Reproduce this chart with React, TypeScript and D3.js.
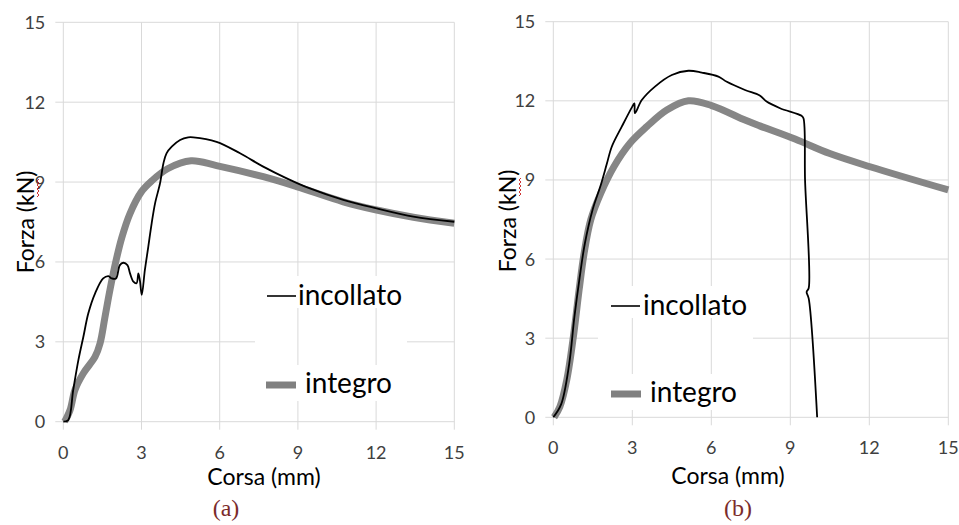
import * as d3 from 'd3';

// x = corsa (mm), y = forza (kN)
const ticks = [0, 3, 6, 9, 12, 15];

const incollatoA: [number, number][] = [
  [0, 0], [0.19, 0.06], [0.38, 1.19], [0.58, 2.32], [0.77, 3.19], [0.96, 4.07],
  [1.22, 4.82], [1.53, 5.38], [1.73, 5.47], [1.86, 5.38], [2.02, 5.38],
  [2.17, 5.88], [2.3, 5.97], [2.46, 5.88], [2.56, 5.57], [2.69, 5.26],
  [2.81, 5.2], [2.88, 5.57], [2.94, 5.3], [3.01, 4.76], [3.13, 5.7],
  [3.26, 6.57], [3.39, 7.45], [3.52, 8.2], [3.71, 8.95], [3.84, 9.7],
  [3.96, 10.08], [4.16, 10.33], [4.48, 10.58], [4.79, 10.68], [4.99, 10.68],
  [5.88, 10.51], [6.78, 10.08], [7.67, 9.58], [8.57, 9.14], [9.46, 8.76],
  [10.74, 8.33], [12.02, 8.01], [13.43, 7.7], [15, 7.51],
];

const integroA: [number, number][] = [
  [0.05, 0], [0.26, 0.44], [0.45, 1.2], [0.77, 1.82], [1.22, 2.44],
  [1.41, 2.94], [1.6, 3.94], [1.79, 4.95], [2.0, 5.95], [2.24, 6.9],
  [2.55, 7.8], [3.0, 8.64], [3.4, 9.05], [4.0, 9.5], [4.9, 9.8],
  [5.88, 9.62], [7.67, 9.2], [8.95, 8.83], [10.74, 8.26], [12.02, 7.95],
  [13.43, 7.68], [15, 7.45],
];

const incollatoB: [number, number][] = [
  [0, 0], [0.3, 0.5], [0.6, 2.0], [0.8, 3.8], [1.0, 5.3], [1.2, 6.6],
  [1.5, 7.9], [1.8, 8.8], [2.03, 9.6], [2.22, 10.26], [2.6, 11.02],
  [3.0, 11.78], [3.08, 11.9], [3.1, 11.53], [3.36, 12.03], [3.86, 12.54],
  [4.5, 12.98], [5.13, 13.14], [5.64, 13.07], [6.27, 12.92], [6.59, 12.72],
  [7.28, 12.41], [7.84, 12.2], [8.1, 11.97], [8.61, 11.72], [9.43, 11.43],
  [9.5, 11.34], [9.56, 9.0], [9.7, 4.9], [9.62, 4.75], [9.7, 4.5], [10.02, 0],
];

const integroB: [number, number][] = [
  [0.03, 0], [0.25, 0.4], [0.51, 1.41], [0.78, 3.19], [0.98, 4.83],
  [1.17, 6.22], [1.42, 7.48], [1.8, 8.49], [2.3, 9.5], [2.91, 10.39],
  [3.55, 11.02], [4.31, 11.65], [5.13, 12.0], [6.01, 11.82], [7.28, 11.27],
  [7.84, 11.05], [9.18, 10.55], [10.5, 10.0], [12.03, 9.5], [15, 8.62],
];

const panels = [
  {
    key: 'a',
    label: '(a)',
    incollato: incollatoA,
    integro: integroA,
    x: [63.3, 454.3], y: [421.7, 22.3],
    gap: [255, 407],
    xTitle: [264, 485], yTitle: [26, 222], tag: [226, 516],
    legInc: [267, 296, 298], legInt: [266, 385, 305],
  },
  {
    key: 'b',
    label: '(b)',
    incollato: incollatoB,
    integro: integroB,
    x: [553.3, 948.3], y: [417.3, 21.7],
    gap: [598, 753],
    xTitle: [728, 484], yTitle: [508, 221], tag: [738, 516],
    legInc: [611, 306, 643], legInt: [611, 394, 650],
  },
];

const FONT = 'Lato, "Open Sans", sans-serif';
const GRID = '#d9d9d9';

function Panel({ p }: { p: (typeof panels)[number] }) {
  const x = d3.scaleLinear().domain([0, 15]).range(p.x);
  const y = d3.scaleLinear().domain([0, 15]).range(p.y);
  const line = d3
    .line<[number, number]>()
    .x((d) => x(d[0]))
    .y((d) => y(d[1]))
    .curve(d3.curveCatmullRom.alpha(0.5));

  return (
    <g>
      {/* grid */}
      {ticks.map((t) =>
        t === 3 ? (
          <g key={'h' + t}>
            <line x1={x(0) - 8} x2={p.gap[0]} y1={y(t)} y2={y(t)} stroke={GRID} />
            <line x1={p.gap[1]} x2={x(15)} y1={y(t)} y2={y(t)} stroke={GRID} />
          </g>
        ) : (
          <line key={'h' + t} x1={x(0) - 8} x2={x(15)} y1={y(t)} y2={y(t)} stroke={GRID} />
        )
      )}
      {ticks.map((t) => (
        <line key={'v' + t} x1={x(t)} x2={x(t)} y1={y(15)} y2={y(0) + 8} stroke={GRID} />
      ))}

      {/* tick labels */}
      {ticks.map((t) => (
        <text key={'yl' + t} x={x(0) - 18} y={y(t)} dy="0.36em" textAnchor="end"
          fontFamily={FONT} fontSize={18} fill="#404040">{t}</text>
      ))}
      {ticks.map((t) => (
        <text key={'xl' + t} x={x(t)} y={y(0) + 37} textAnchor="middle"
          fontFamily={FONT} fontSize={18} fill="#404040">{t}</text>
      ))}

      {/* series */}
      <path d={line(p.integro)!} fill="none" stroke="#868686" strokeWidth={7}
        strokeLinejoin="round" strokeLinecap="butt" />
      <path d={line(p.incollato)!} fill="none" stroke="#000" strokeWidth={1.8}
        strokeLinejoin="round" />

      {/* legend */}
      <rect x={p.legInc[0] - 2} y={p.legInc[1] - 20} width={122} height={32} fill="#fff" />
      <line x1={p.legInc[0]} x2={p.legInc[0] + 29} y1={p.legInc[1]} y2={p.legInc[1]}
        stroke="#000" strokeWidth={1.6} />
      <text x={p.legInc[2]} y={p.legInc[1] + 9} fontFamily={FONT} fontSize={28} fill="#000">
        incollato
      </text>
      <rect x={p.legInt[0] - 2} y={p.legInt[1] - 20} width={132} height={36} fill="#fff" />
      <line x1={p.legInt[0]} x2={p.legInt[0] + 30} y1={p.legInt[1]} y2={p.legInt[1]}
        stroke="#808080" strokeWidth={7} />
      <text x={p.legInt[2]} y={p.legInt[1] + 8} fontFamily={FONT} fontSize={28} fill="#000">
        integro
      </text>

      {/* axis titles */}
      <text x={p.xTitle[0]} y={p.xTitle[1]} textAnchor="middle" fontFamily={FONT}
        fontSize={23} fill="#000">Corsa (mm)</text>
      <g transform={`translate(${p.yTitle[0]},${p.yTitle[1]}) rotate(-90)`}>
        <text x={0} y={0} dy="0.35em" textAnchor="middle" fontFamily={FONT}
          fontSize={23} fill="#000">Forza (kN)</text>
        <path d="M25,11 l2,2 l2,-2 l2,2 l2,-2 l2,2 l2,-2 l2,2 l2,-2 l2,2"
          fill="none" stroke="#c00000" strokeWidth={0.8} />
      </g>
      <text x={p.tag[0]} y={p.tag[1]} textAnchor="middle"
        fontFamily='"Liberation Serif", serif' fontSize={24} fill="#7b2b2b">{p.label}</text>
    </g>
  );
}

export default function App() {
  return (
    <svg width={959} height={525}
      style={{ position: 'fixed', left: 0, top: 0, background: '#fff' }}>
      <rect width={959} height={525} fill="#fff" />
      {panels.map((p) => (
        <Panel key={p.key} p={p} />
      ))}
    </svg>
  );
}
